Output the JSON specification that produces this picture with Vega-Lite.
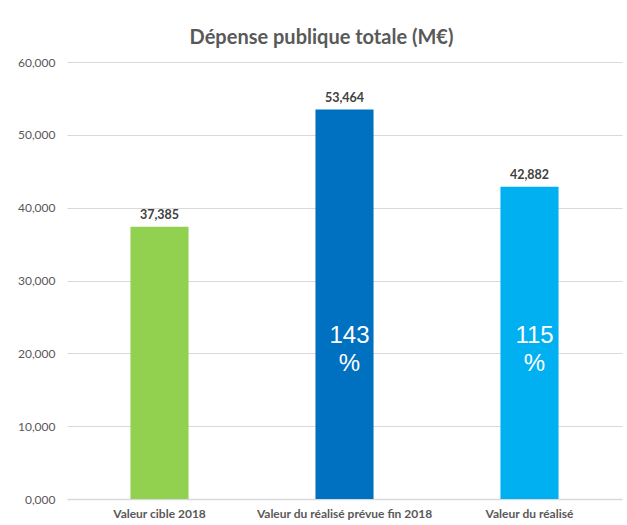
{
  "$schema": "https://vega.github.io/schema/vega-lite/v6.json",
  "autosize": {"type": "none"},
  "width": 555,
  "height": 437,
  "padding": {"left": 67, "top": 62, "right": 5, "bottom": 26},
  "background": "white",
  "config": {"view": {"stroke": null}},
  "title": {
    "text": "Dépense publique totale (M€)",
    "font": "Lato",
    "fontSize": 20,
    "fontWeight": "bold",
    "color": "#595959",
    "anchor": "middle",
    "dx": -23,
    "offset": 8
  },
  "data": {
    "values": [
      {"cat": "Valeur cible 2018", "value": 37385, "pct": "", "color": "#92D050"},
      {"cat": "Valeur du réalisé prévue fin 2018", "value": 53464, "pct": "143\n%", "color": "#0070C0"},
      {"cat": "Valeur du réalisé", "value": 42882, "pct": "115\n%", "color": "#00B0F0"}
    ]
  },
  "encoding": {
    "x": {
      "field": "cat",
      "type": "nominal",
      "sort": null,
      "scale": {"paddingInner": 0.686, "paddingOuter": 0.343},
      "axis": {
        "title": null,
        "labelAngle": 0,
        "labelFont": "Lato",
        "labelFontSize": 12,
        "labelFontWeight": "bold",
        "labelColor": "#595959",
        "labelPadding": 9,
        "ticks": false,
        "domainColor": "#d9d9d9",
        "domainWidth": 1.5
      }
    }
  },
  "resolve": {"axis": {"y": "independent"}},
  "layer": [
    {
      "mark": {"type": "bar"},
      "encoding": {
        "y": {
          "field": "value",
          "type": "quantitative",
          "scale": {"domain": [0, 60000]},
          "axis": {
            "title": null,
            "values": [0, 10000, 20000, 30000, 40000, 50000, 60000],
            "labelExpr": "datum.value == 0 ? '0,000' : format(datum.value, ',')",
            "labelFont": "Lato",
            "labelFontSize": 12,
            "labelColor": "#595959",
            "labelPadding": 12,
            "labelOverlap": false,
            "ticks": false,
            "domain": false,
            "gridColor": "#d9d9d9",
            "gridWidth": 1.2
          }
        },
        "color": {"field": "color", "type": "nominal", "scale": null}
      }
    },
    {
      "mark": {"type": "text", "dy": -12, "font": "Lato", "fontSize": 12.5, "fontWeight": "bold", "color": "#404040"},
      "encoding": {
        "y": {"field": "value", "type": "quantitative", "axis": null},
        "text": {"field": "value", "type": "quantitative", "format": ","}
      }
    },
    {
      "mark": {"type": "text", "font": "Liberation Sans", "fontSize": 24, "color": "white", "lineBreak": "\n", "lineHeight": 28, "baseline": "middle", "dx": 5},
      "encoding": {
        "y": {"datum": 22400, "type": "quantitative", "axis": null},
        "text": {"field": "pct", "type": "nominal"}
      }
    }
  ]
}
